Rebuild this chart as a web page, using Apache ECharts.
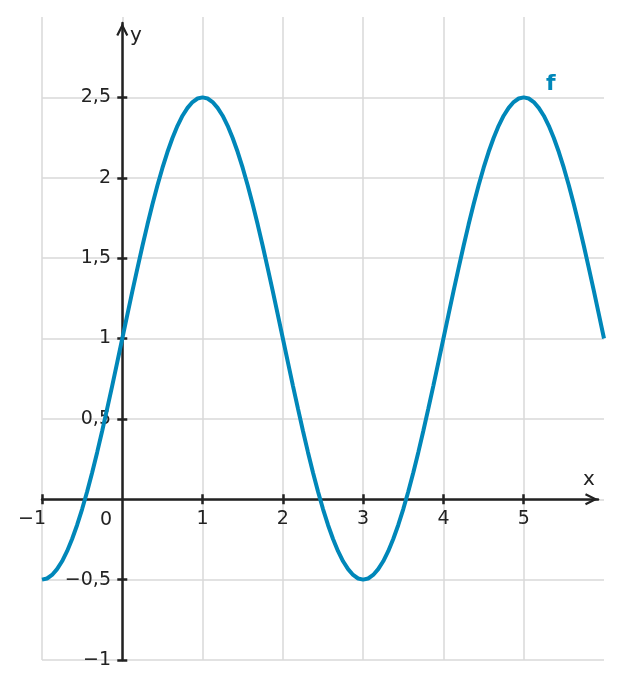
<!DOCTYPE html>
<html>
<head>
<meta charset="utf-8">
<script src="https://cdn.jsdelivr.net/npm/echarts@6/dist/echarts.min.js"></script>
<style>
html,body{margin:0;padding:0;background:#fff;}
#chart{width:622px;height:689px;}
</style>
</head>
<body>
<div id="chart"></div>
<script>
// Curve sample points (x step 1/16)
var xValues = [-1,-0.9375,-0.875,-0.8125,-0.75,-0.6875,-0.625,-0.5625,-0.5,-0.4375,-0.375,-0.3125,-0.25,-0.1875,-0.125,-0.0625,
  0,0.0625,0.125,0.1875,0.25,0.3125,0.375,0.4375,0.5,0.5625,0.625,0.6875,0.75,0.8125,0.875,0.9375,
  1,1.0625,1.125,1.1875,1.25,1.3125,1.375,1.4375,1.5,1.5625,1.625,1.6875,1.75,1.8125,1.875,1.9375,
  2,2.0625,2.125,2.1875,2.25,2.3125,2.375,2.4375,2.5,2.5625,2.625,2.6875,2.75,2.8125,2.875,2.9375,
  3,3.0625,3.125,3.1875,3.25,3.3125,3.375,3.4375,3.5,3.5625,3.625,3.6875,3.75,3.8125,3.875,3.9375,
  4,4.0625,4.125,4.1875,4.25,4.3125,4.375,4.4375,4.5,4.5625,4.625,4.6875,4.75,4.8125,4.875,4.9375,
  5,5.0625,5.125,5.1875,5.25,5.3125,5.375,5.4375,5.5,5.5625,5.625,5.6875,5.75,5.8125,5.875,5.9375,
  6];
var fValues = [-0.5,-0.493,-0.471,-0.435,-0.386,-0.323,-0.247,-0.160,-0.061,0.048,0.167,0.293,0.426,0.565,0.707,0.853,
  1,1.147,1.293,1.435,1.574,1.707,1.833,1.952,2.061,2.160,2.247,2.323,2.386,2.435,2.471,2.493,
  2.5,2.493,2.471,2.435,2.386,2.323,2.247,2.160,2.061,1.952,1.833,1.707,1.574,1.435,1.293,1.147,
  1,0.853,0.707,0.565,0.426,0.293,0.167,0.048,-0.061,-0.160,-0.247,-0.323,-0.386,-0.435,-0.471,-0.493,
  -0.5,-0.493,-0.471,-0.435,-0.386,-0.323,-0.247,-0.160,-0.061,0.048,0.167,0.293,0.426,0.565,0.707,0.853,
  1,1.147,1.293,1.435,1.574,1.707,1.833,1.952,2.061,2.160,2.247,2.323,2.386,2.435,2.471,2.493,
  2.5,2.493,2.471,2.435,2.386,2.323,2.247,2.160,2.061,1.952,1.833,1.707,1.574,1.435,1.293,1.147,
  1];
var xTickValues = [-1,1,2,3,4,5];
var yTickValues = [-1,-0.5,0.5,1,1.5,2,2.5];
var xTickLabels = ['−1','','1','2','3','4','5',''];
var yTickLabels = ['−1','−0,5','','0,5','1','1,5','2','2,5',''];
var seriesName = 'f';

var FONT = 'DejaVu Sans';
var TXT = '#222';
var AX = '#222';
var GRIDC = '#d9d9d9';
var BLUE = '#0087b9';
var chevron = 'path://M0,12 L6,0 L12,12 L10.03,12.98 L6,4.9 L1.97,12.98 Z';

var data = xValues.map(function(x,i){return [x,fValues[i]];});

function xLab(v){
  var i = Math.round(v+1); var s = xTickLabels[i] || '';
  return i === 0 ? '{n|' + s + '}' : s;
}
function yLab(v){ var i = Math.round((v+1)*2); return yTickLabels[i] || ''; }

// main plotting area
var GL = 42, GT = 17, GW = 562, GH = 643;
var X_PER = GW / 7, Y_PER = GH / 4;
// axis-line area (ends at the arrow tips)
var AL = GL, AT = 23, AW = 556, AH = GT + GH - AT;
var axXMax = -1 + AW / X_PER, axYMax = -1 + AH / Y_PER;

var lineStyle = {color:AX,width:2.5};
var chart = echarts.init(document.getElementById('chart'));
var option = {
  animation:false,
  backgroundColor:'#fff',
  grid:[
    {left:GL,top:GT,width:GW,height:GH,containLabel:false,outerBoundsMode:'none'},
    {left:AL,top:AT,width:AW,height:AH,containLabel:false,outerBoundsMode:'none'}
  ],
  xAxis:[{
    gridIndex:0,type:'value',min:-1,max:6,interval:1,position:'bottom',
    axisLine:{show:false,onZero:false},axisTick:{show:false},axisLabel:{show:false},
    splitLine:{show:true,showMinLine:true,showMaxLine:false,lineStyle:{color:GRIDC,width:1.5}}
  },{
    gridIndex:0,type:'value',min:-1,max:6,interval:1,position:'bottom',offset:-161,
    axisLine:{show:false,onZero:false},axisTick:{show:false},
    axisLabel:{show:true,formatter:xLab,color:TXT,fontFamily:FONT,fontSize:19,margin:11,
      rich:{n:{padding:[0,20,0,0],color:TXT,fontFamily:FONT,fontSize:19}}},
    splitLine:{show:false}
  },{
    gridIndex:1,type:'value',min:-1,max:axXMax,position:'bottom',
    axisLine:{show:true,onZero:true,onZeroAxisIndex:2,symbol:['none',chevron],symbolSize:[13,13],symbolOffset:[0,-6.5],lineStyle:lineStyle},
    axisTick:{show:true,length:5,customValues:xTickValues,lineStyle:lineStyle},
    axisLabel:{show:false},splitLine:{show:false}
  },{
    gridIndex:1,type:'value',min:-1,max:axXMax,position:'bottom',
    axisLine:{show:false,onZero:true,onZeroAxisIndex:2},
    axisTick:{show:true,inside:true,length:5,customValues:xTickValues,lineStyle:lineStyle},
    axisLabel:{show:false},splitLine:{show:false}
  }],
  yAxis:[{
    gridIndex:0,type:'value',min:-1,max:3,interval:0.5,position:'left',
    axisLine:{show:false,onZero:false},axisTick:{show:false},axisLabel:{show:false},
    splitLine:{show:true,showMinLine:true,showMaxLine:false,lineStyle:{color:GRIDC,width:1.5}}
  },{
    gridIndex:0,type:'value',min:-1,max:3,interval:0.5,position:'left',offset:-80,
    axisLine:{show:false,onZero:false},axisTick:{show:false},
    axisLabel:{show:true,formatter:yLab,color:TXT,fontFamily:FONT,fontSize:19,margin:11},
    splitLine:{show:false}
  },{
    gridIndex:1,type:'value',min:-1,max:axYMax,position:'left',
    axisLine:{show:true,onZero:true,onZeroAxisIndex:2,symbol:['none',chevron],symbolSize:[13,13],symbolOffset:[0,-6.5],lineStyle:lineStyle},
    axisTick:{show:true,length:5,customValues:yTickValues,lineStyle:lineStyle},
    axisLabel:{show:false},splitLine:{show:false}
  },{
    gridIndex:1,type:'value',min:-1,max:axYMax,position:'left',
    axisLine:{show:false,onZero:true,onZeroAxisIndex:2},
    axisTick:{show:true,inside:true,length:5,customValues:yTickValues,lineStyle:lineStyle},
    axisLabel:{show:false},splitLine:{show:false}
  }],
  series:[{
    name:seriesName,type:'line',data:data,xAxisIndex:0,yAxisIndex:0,
    showSymbol:false,smooth:false,clip:true,
    lineStyle:{color:BLUE,width:4},z:3
  }],
  graphic:[
    {type:'text',left:100,top:511,style:{text:'0',fill:TXT,font:'19px "DejaVu Sans"'}},
    {type:'text',left:583,top:470,style:{text:'x',fill:TXT,font:'20px "DejaVu Sans"'}},
    {type:'text',left:130,top:26,style:{text:'y',fill:TXT,font:'20px "DejaVu Sans"'}},
    {type:'text',left:546,top:73,style:{text:seriesName,fill:BLUE,font:'bold 22px "DejaVu Sans"'}}
  ]
};
chart.setOption(option);
</script>
</body>
</html>
